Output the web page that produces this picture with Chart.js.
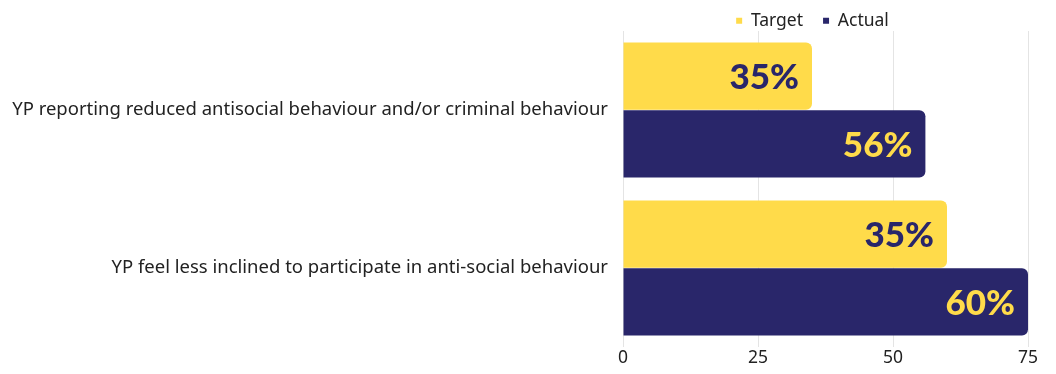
<!DOCTYPE html>
<html>
<head>
<meta charset="utf-8">
<script src="https://cdn.jsdelivr.net/npm/chart.js@4"></script>
<style>
  html, body { margin: 0; padding: 0; background: #fff; }
  #wrap { width: 1056px; height: 374px; }
</style>
</head>
<body>
<div id="wrap"><canvas id="chart"></canvas></div>
<script>
const categories = [
    'YP reporting reduced antisocial behaviour and/or criminal behaviour',
    'YP feel less inclined to participate in anti-social behaviour'
];
const targetValues = [35, 60];
const actualValues = [56, 75];
const targetLabels = ['35%', '35%'];
const actualLabels = ['56%', '60%'];
const xTicks = [0, 25, 50, 75];

const YELLOW = '#FFDB4A';
const NAVY = '#29266A';

// Centre the legend over the plot area instead of the whole canvas
const legendOverArea = {
    id: 'legendOverArea',
    afterLayout(chart) {
        const lg = chart.legend;
        if (!lg) return;
        lg.left = chart.chartArea.left;
        lg.right = chart.chartArea.right - 26;
        lg.adjustHitBoxes();
    }
};

// Percent labels inside the bar ends
const barLabels = {
    id: 'barLabels',
    afterDatasetsDraw(chart) {
        const c = chart.ctx;
        c.save();
        c.font = '900 35px Lato';
        c.textAlign = 'right';
        c.textBaseline = 'middle';
        chart.data.datasets.forEach((ds, i) => {
            const meta = chart.getDatasetMeta(i);
            meta.data.forEach((bar, j) => {
                c.fillStyle = ds.labelColor;
                c.fillText(ds.valueLabels[j], bar.x - 13, bar.y + 2);
            });
        });
        c.restore();
    }
};

new Chart(document.getElementById('chart'), {
    type: 'bar',
    data: {
        labels: categories,
        datasets: [{
            label: 'Target',
            data: targetValues,
            valueLabels: targetLabels,
            labelColor: NAVY,
            backgroundColor: YELLOW,
            borderRadius: 6,
            borderSkipped: 'start'
        }, {
            label: 'Actual',
            data: actualValues,
            valueLabels: actualLabels,
            labelColor: YELLOW,
            backgroundColor: NAVY,
            borderRadius: 6,
            borderSkipped: 'start'
        }]
    },
    options: {
        indexAxis: 'y',
        responsive: true,
        maintainAspectRatio: false,
        animation: false,
        categoryPercentage: 0.86,
        barPercentage: 0.99,
        layout: { padding: { left: 8, right: 28, top: -8, bottom: 4 } },
        plugins: {
            legend: {
                position: 'top',
                maxHeight: 39,
                labels: {
                    color: '#222',
                    font: { family: 'Noto Sans', size: 17.5 },
                    boxWidth: 6,
                    boxHeight: 6,
                    padding: 20
                }
            },
            tooltip: { enabled: false }
        },
        scales: {
            x: {
                min: 0,
                max: 75,
                afterBuildTicks: axis => { axis.ticks = xTicks.map(v => ({ value: v })); },
                grid: { color: '#e4e4e4', drawTicks: false },
                border: { display: false },
                ticks: {
                    color: '#222',
                    font: { family: 'Noto Sans', size: 17.5 },
                    padding: 1
                }
            },
            y: {
                afterFit: axis => { axis.width = 615; },
                grid: { display: false },
                border: { display: false },
                ticks: {
                    color: '#222',
                    font: { family: 'Noto Sans', size: 18.5 },
                    padding: 7
                }
            }
        }
    },
    plugins: [legendOverArea, barLabels]
});
</script>
</body>
</html>
